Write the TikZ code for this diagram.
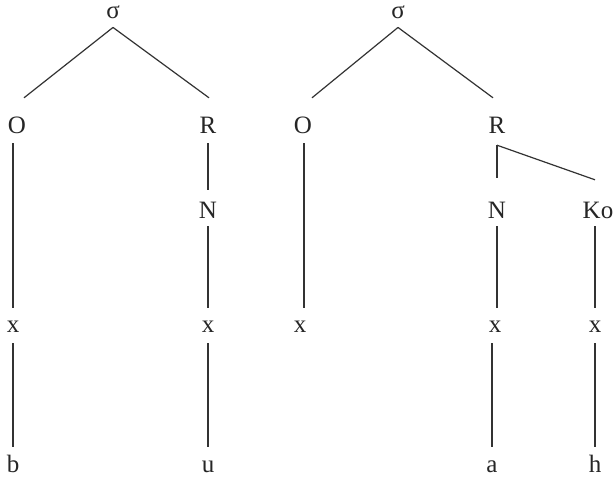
\documentclass[tikz,border=0pt]{standalone}
\usepackage{fontspec}
\setmainfont{Liberation Serif}
\begin{document}
\begin{tikzpicture}[x=1pt,y=-1pt,
  lab/.style={anchor=base,inner sep=0pt,text height=16pt,text depth=0pt,
    font=\fontsize{25}{30}\selectfont,text=black!85},
  top/.style={anchor=base,inner sep=0pt,
    font=\fontsize{25}{30}\selectfont,text=black!85},
  edge/.style={draw=black!80,line width=1.2pt}]
\useasboundingbox[fill=white] (0,0) rectangle (613,479);
% left tree
\node[top] (s1) at (113,19) {σ};
\node[lab] (o1) at (17,133) {O};
\node[lab] (r1) at (208,133) {R};
\node[lab] (n1) at (208,218) {N};
\node[lab] (x1) at (13,332) {x};
\node[lab] (x2) at (208,332) {x};
\node[lab] (b) at (13,472) {b};
\node[lab] (u) at (208,472) {u};
% right tree
\node[top] (s2) at (398,19) {σ};
\node[lab] (o2) at (303,133) {O};
\node[lab] (r2) at (497,133) {R};
\node[lab] (n2) at (497,218) {N};
\node[lab] (ko) at (598,218) {Ko};
\node[lab] (x3) at (300,332) {x};
\node[lab] (x4) at (495,332) {x};
\node[lab] (x5) at (595,332) {x};
\node[lab] (a) at (492,472) {a};
\node[lab] (h) at (595,472) {h};
% left edges
\draw[edge] ([yshift=-8pt]s1.south) -- ([shift={(7pt,19pt)}]o1.north);
\draw[edge] ([yshift=-8pt]s1.south) -- ([shift={(1pt,19pt)}]r1.north);
\draw[edge] ([shift={(-4pt,-10pt)}]o1.south) -- ([yshift=8pt]x1.north);
\draw[edge] ([yshift=-11pt]x1.south) -- ([yshift=9pt]b.north);
\draw[edge] ([yshift=-10pt]r1.south) -- ([yshift=12pt]n1.north);
\draw[edge] ([yshift=-8pt]n1.south) -- ([yshift=8pt]x2.north);
\draw[edge] ([yshift=-11pt]x2.south) -- ([yshift=9pt]u.north);
% right edges
\draw[edge] ([yshift=-8pt]s2.south) -- ([shift={(9pt,19pt)}]o2.north);
\draw[edge] ([yshift=-8pt]s2.south) -- ([shift={(-4pt,19pt)}]r2.north);
\draw[edge] ([shift={(1pt,-10pt)}]o2.south) -- ([shift={(4pt,8pt)}]x3.north);
\draw[edge] ([yshift=-12pt]r2.south) -- ([yshift=24pt]n2.north);
\draw[edge] ([yshift=-12pt]r2.south) -- ([shift={(-3pt,22pt)}]ko.north);
\draw[edge] ([yshift=-8pt]n2.south) -- ([shift={(2pt,8pt)}]x4.north);
\draw[edge] ([shift={(-3pt,-11pt)}]x4.south) -- ([yshift=9pt]a.north);
\draw[edge] ([shift={(-3pt,-8pt)}]ko.south) -- ([yshift=8pt]x5.north);
\draw[edge] ([yshift=-11pt]x5.south) -- ([yshift=9pt]h.north);
\end{tikzpicture}
\end{document}
